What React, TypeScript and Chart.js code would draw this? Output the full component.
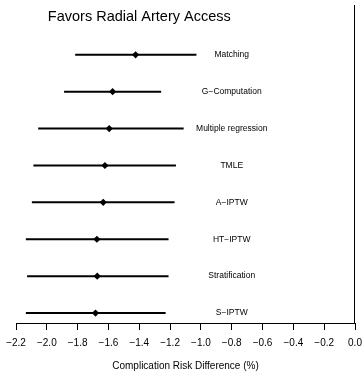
import React, { useEffect, useRef } from "react";
import { Chart, registerables } from "chart.js";

Chart.register(...registerables);

const methods = [
  "Matching",
  "G\u2212Computation",
  "Multiple regression",
  "TMLE",
  "A\u2212IPTW",
  "HT\u2212IPTW",
  "Stratification",
  "S\u2212IPTW",
];
const estimates = [-1.424, -1.573, -1.595, -1.623, -1.634, -1.675, -1.673, -1.684];
const lower = [-1.816, -1.888, -2.056, -2.087, -2.097, -2.136, -2.128, -2.136];
const upper = [-1.029, -1.258, -1.112, -1.162, -1.171, -1.21, -1.21, -1.229];
const titleText = "Favors Radial Artery Access";
const axisTitle = "Complication Risk Difference (%)";

const X_MIN = -2.2;
const X_MAX = 0;
const Y_MIN = 0.73;
const Y_MAX = 9.35;
const LABEL_X = -0.8;
const TITLE_X = -1.4;
const TITLE_Y = 9.03;

const FONT = "'Liberation Sans', Arial, Helvetica, sans-serif";

export default function App() {
  const ref = useRef<HTMLCanvasElement | null>(null);

  useEffect(() => {
    document.body.style.margin = "0";
    const canvas = ref.current;
    if (!canvas) return;
    const n = methods.length;
    const rowY = (i: number) => n - i;

    const barSets = methods.map((m, i) => ({
      type: "line" as const,
      label: m,
      data: [
        { x: lower[i], y: rowY(i) },
        { x: upper[i], y: rowY(i) },
      ],
      borderColor: "#000",
      borderWidth: 2,
      pointRadius: 0,
      showLine: true,
      fill: false,
    }));

    const pointSet = {
      type: "scatter" as const,
      label: "estimates",
      data: estimates.map((v, i) => ({ x: v, y: rowY(i) })),
      pointStyle: "rectRot",
      pointRadius: 3.6,
      backgroundColor: "#000",
      borderColor: "#000",
      borderWidth: 0,
    };

    const zeroLine = {
      type: "line" as const,
      label: "zero",
      data: [
        { x: 0, y: Y_MIN },
        { x: 0, y: Y_MAX },
      ],
      borderColor: "#000",
      borderWidth: 2,
      pointRadius: 0,
      showLine: true,
      fill: false,
    };

    const textPlugin = {
      id: "textPlugin",
      afterDatasetsDraw(chart: any) {
        const ctx = chart.ctx;
        const xs = chart.scales.x;
        const ys = chart.scales.y;
        ctx.save();
        ctx.fillStyle = "#000";
        ctx.textAlign = "center";
        ctx.textBaseline = "middle";
        ctx.font = `8.5px ${FONT}`;
        methods.forEach((m, i) => {
          ctx.fillText(m, xs.getPixelForValue(LABEL_X), ys.getPixelForValue(rowY(i)));
        });
        ctx.font = `14.5px ${FONT}`;
        ctx.fillText(titleText, xs.getPixelForValue(TITLE_X), ys.getPixelForValue(TITLE_Y));
        ctx.restore();
      },
    };

    const chart = new Chart(canvas, {
      type: "scatter",
      data: { datasets: [...barSets, pointSet, zeroLine] as any },
      options: {
        animation: false,
        responsive: false,
        maintainAspectRatio: false,
        layout: { padding: { left: 16, right: 9, top: 5, bottom: 0 } },
        plugins: {
          legend: { display: false },
          tooltip: { enabled: false },
          title: { display: false },
        },
        scales: {
          x: {
            type: "linear",
            min: X_MIN,
            max: X_MAX,
            border: { display: true, color: "#000", width: 1 },
            grid: {
              display: true,
              drawOnChartArea: false,
              drawTicks: true,
              tickLength: 7,
              tickColor: "#000",
              tickWidth: 1,
            },
            ticks: {
              stepSize: 0.2,
              maxRotation: 0,
              autoSkip: false,
              color: "#000",
              padding: 1,
              font: { family: FONT, size: 10, lineHeight: 2.4 },
              callback: (v: any) => {
                const s = Number(v).toFixed(1);
                return s === "-0.0" ? "0.0" : s.replace("-", "\u2212");
              },
            },
            title: {
              display: true,
              text: axisTitle,
              color: "#000",
              font: { family: FONT, size: 10 },
              padding: { top: 4, bottom: 1 },
            },
          },
          y: {
            type: "linear",
            display: false,
            min: Y_MIN,
            max: Y_MAX,
          },
        },
      } as any,
      plugins: [textPlugin],
    });
    return () => chart.destroy();
  }, []);

  return <canvas ref={ref} width={364} height={373} style={{ display: "block" }} />;
}
